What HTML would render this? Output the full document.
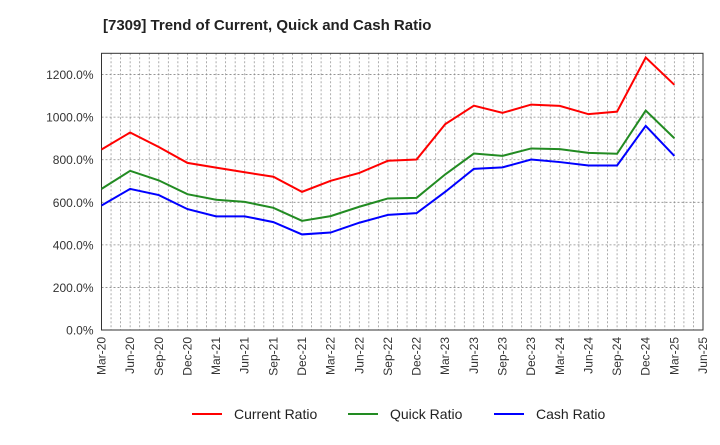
<!DOCTYPE html>
<html><head><meta charset="utf-8"><style>
body{margin:0;background:#fff;font-family:"Liberation Sans",Arial,sans-serif}
</style></head><body>
<svg width="720" height="440" xmlns="http://www.w3.org/2000/svg">
<text x="103" y="30" font-size="15" font-weight="bold" fill="#222">[7309]  Trend of Current, Quick and Cash Ratio</text>
<g id="grid"></g><g id="axes"></g><g id="series"></g>
<g>
<g><line x1="192" y1="414" x2="222" y2="414" stroke="#f00" stroke-width="2"/><text x="234" y="419" font-size="14" fill="#222">Current Ratio</text></g>
<g><line x1="348" y1="414" x2="378" y2="414" stroke="#228b22" stroke-width="2"/><text x="390" y="419" font-size="14" fill="#222">Quick Ratio</text></g>
<g><line x1="494" y1="414" x2="524" y2="414" stroke="#00f" stroke-width="2"/><text x="536" y="419" font-size="14" fill="#222">Cash Ratio</text></g>
</g>
</svg>
<script>
const categories=["Mar-20","Jun-20","Sep-20","Dec-20","Mar-21","Jun-21","Sep-21","Dec-21","Mar-22","Jun-22","Sep-22","Dec-22","Mar-23","Jun-23","Sep-23","Dec-23","Mar-24","Jun-24","Sep-24","Dec-24","Mar-25","Jun-25"];
const currentRatio=[848,928,860,785,763,741,720,649,701,738,795,801,967,1054,1020,1059,1053,1014,1026,1280,1152];
const quickRatio=[663,748,703,638,612,602,574,513,535,579,618,621,731,829,818,853,850,832,828,1031,901];
const cashRatio=[585,663,634,568,534,534,507,449,458,504,541,549,649,757,764,801,789,773,773,959,818];
const yTicks=[0,200,400,600,800,1000,1200];
const yTickLabels=["0.0%","200.0%","400.0%","600.0%","800.0%","1000.0%","1200.0%"];
const L=101.5,R=703,T=53.3,B=330,YMAX=1300;
const NS="http://www.w3.org/2000/svg";
const xs=i=>L+i*(R-L)/(categories.length-1);
const ys=v=>B-v*(B-T)/YMAX;
function mk(tag,attrs,parent){const e=document.createElementNS(NS,tag);for(const k in attrs)e.setAttribute(k,attrs[k]);parent.appendChild(e);return e;}
const grid=document.getElementById('grid'),axes=document.getElementById('axes'),ser=document.getElementById('series');
for(let i=0;i<categories.length;i++){
  const x=xs(i);
  for(let j=0;j<3;j++){const xx=x+j*(R-L)/(categories.length-1)/3;if(xx<R-0.5&&xx>L+0.5){const g=mk('line',{x1:xx,y1:T,x2:xx,y2:B,stroke:'#999','stroke-width':0.8,'stroke-dasharray':'2,2'},grid);}}
  const t=mk('text',{x:0,y:0,'font-size':12,fill:'#333','text-anchor':'end',transform:`translate(${x+4},${B+7}) rotate(-90)`},axes);
  t.textContent=categories[i];
  
  
}
yTicks.forEach((v,i)=>{
  const y=ys(v);
  if(v>0){const g=mk('line',{x1:L,y1:y,x2:R,y2:y,stroke:'#888','stroke-width':0.8,'stroke-dasharray':'2,2'},grid);}
  const t=mk('text',{x:L-8,y:y+4.5,'font-size':12,fill:'#333','text-anchor':'end'},axes);
  t.textContent=yTickLabels[i];
  
  
});
const frame=mk('rect',{x:L,y:T,width:R-L,height:B-T,fill:'none',stroke:'#333','stroke-width':1},axes);


[[currentRatio,'#f00','current-ratio-line'],[quickRatio,'#228b22','quick-ratio-line'],[cashRatio,'#00f','cash-ratio-line']].forEach(([d,c,n])=>{
  const p=mk('polyline',{points:d.map((v,i)=>xs(i)+','+ys(v)).join(' '),fill:'none',stroke:c,'stroke-width':2},ser);
  
  
});
</script>
</body></html>
